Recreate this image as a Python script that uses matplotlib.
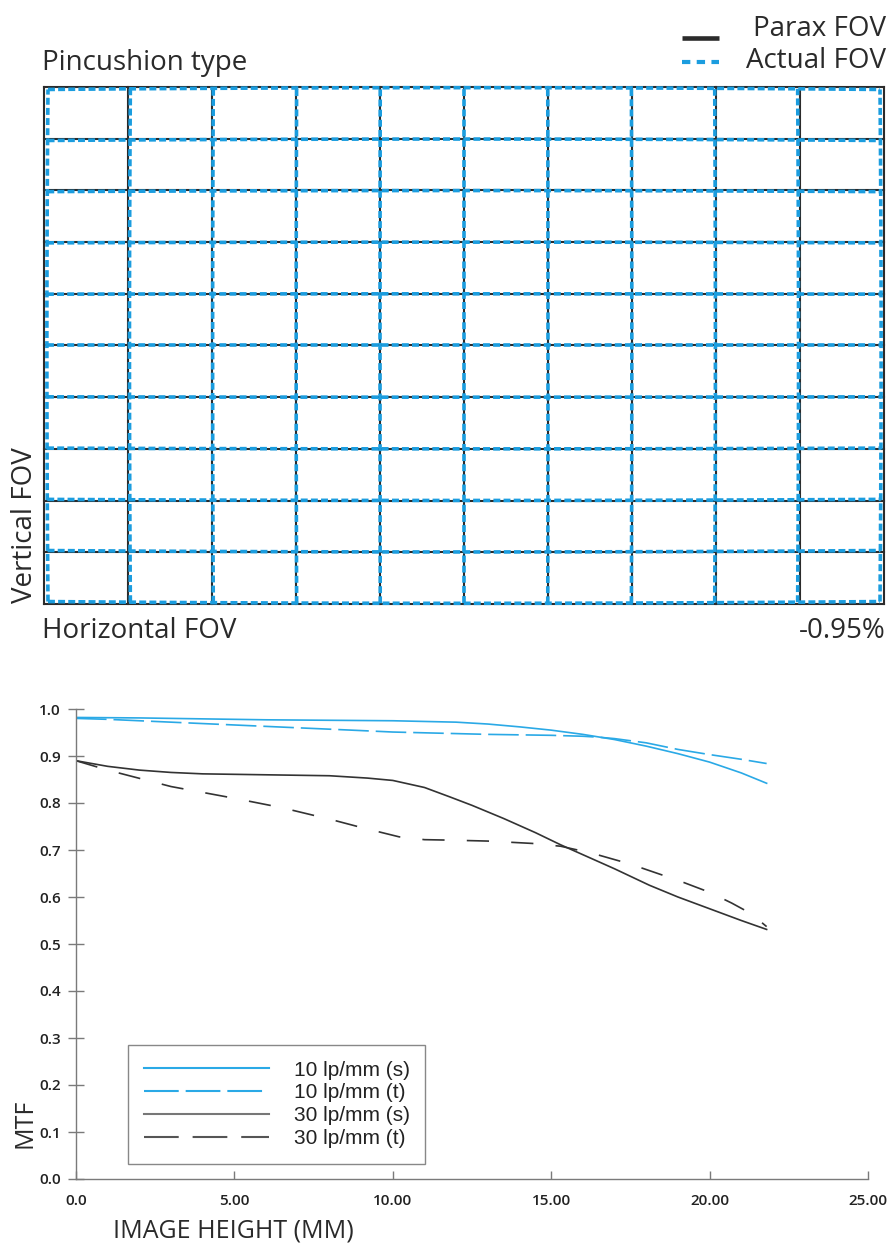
import matplotlib
matplotlib.use("Agg")
import matplotlib.pyplot as plt
import numpy as np

plt.rcParams['lines.scale_dashes'] = False
plt.rcParams['font.family'] = ['Open Sans', 'DejaVu Sans']

# distortion grid
n_cols = 10
n_rows = 10
distortion = -0.95  # percent at the corner

# MTF curves, image height (mm) vs MTF
h_10s = [0, 2, 4, 6, 8, 10, 12, 13, 14, 15, 16, 17, 18, 19, 20, 21, 21.8]
mtf_10s = [0.982, 0.981, 0.979, 0.977, 0.976, 0.975, 0.972, 0.968, 0.962, 0.955,
           0.946, 0.935, 0.921, 0.905, 0.887, 0.864, 0.842]
h_10t = [0, 1, 3, 5, 7, 8.7, 10, 11.8, 13, 14, 15, 16, 16.5, 17, 18, 19, 20, 21, 21.8]
mtf_10t = [0.980, 0.978, 0.972, 0.966, 0.960, 0.955, 0.951, 0.948, 0.946, 0.945,
           0.944, 0.942, 0.940, 0.937, 0.928, 0.914, 0.903, 0.893, 0.884]
h_30s = [0, 1, 2, 3, 4, 6, 8, 9.2, 10, 11, 11.8, 12.5, 13.5, 14.5, 15.3, 16, 17,
         18.1, 19, 20, 21, 21.8]
mtf_30s = [0.890, 0.878, 0.870, 0.865, 0.862, 0.860, 0.858, 0.853, 0.848, 0.833,
           0.813, 0.795, 0.767, 0.737, 0.711, 0.690, 0.660, 0.625, 0.600, 0.575,
           0.550, 0.531]
h_30t = [0, 1, 1.8, 3, 5, 6.5, 8.1, 9, 10.2, 11, 11.8, 13, 14.4, 15.3, 16.3, 17.5,
         19.1, 20, 20.7, 21.3, 21.8]
mtf_30t = [0.890, 0.870, 0.856, 0.835, 0.810, 0.790, 0.764, 0.748, 0.728, 0.722,
           0.721, 0.719, 0.714, 0.708, 0.693, 0.670, 0.633, 0.610, 0.587, 0.565,
           0.537]
labels = ['10 lp/mm (s)', '10 lp/mm (t)', '30 lp/mm (s)', '30 lp/mm (t)']
x_ticks = [0, 5, 10, 15, 20, 25]
x_ticklabels = ['0.0', '5.00', '10.00', '15.00', '20.00', '25.00']
y_ticks = [0.0, 0.1, 0.2, 0.3, 0.4, 0.5, 0.6, 0.7, 0.8, 0.9, 1.0]

W, H = 893, 1245
fig = plt.figure(figsize=(W / 100, H / 100), dpi=100)

black = '#2b2b2b'
grid_blue = '#1b9ddf'
mtf_blue = '#2aa9e6'

# ---- top: grid distortion ----
ax1 = fig.add_axes([44 / W, 1 - 604 / H, 840 / W, 517 / H])
ax1.set_xlim(0, n_cols)
ax1.set_ylim(0, n_rows)
ax1.axis('off')

cw, rh = 840 / n_cols, 517 / n_rows
rc2 = (n_cols / 2 * cw) ** 2 + (n_rows / 2 * rh) ** 2


def distort(x, y):
    px = (x - n_cols / 2) * cw
    py = (y - n_rows / 2) * rh
    s = 1 + distortion / 100 * (px ** 2 + py ** 2) / rc2
    return n_cols / 2 + (x - n_cols / 2) * s, n_rows / 2 + (y - n_rows / 2) * s


t = np.linspace(0, 1, 60)
for i in range(n_cols + 1):
    ax1.plot([i, i], [0, n_rows], color=black, lw=1.5, clip_on=False, zorder=1)
    xd, yd = distort(np.full_like(t, i), t * n_rows)
    ax1.plot(xd, yd, color=grid_blue, lw=2.6, dashes=(5, 2.3), clip_on=False, zorder=2)
for j in range(n_rows + 1):
    ax1.plot([0, n_cols], [j, j], color=black, lw=1.5, clip_on=False, zorder=1)
    xd, yd = distort(t * n_cols, np.full_like(t, j))
    ax1.plot(xd, yd, color=grid_blue, lw=2.6, dashes=(5, 2.3), clip_on=False, zorder=2)

txt = dict(color='#2a2a2a', fontsize=20)
fig.text(42 / W, 1 - 70 / H, 'Pincushion type', ha='left', va='baseline', **txt)
fig.text(886 / W, 1 - 36 / H, 'Parax FOV', ha='right', va='baseline', **txt)
fig.text(886 / W, 1 - 68 / H, 'Actual FOV', ha='right', va='baseline', **txt)
fig.text(42 / W, 1 - 638 / H, 'Horizontal FOV', ha='left', va='baseline', **txt)
fig.text(886 / W, 1 - 638 / H, '-0.95%', ha='right', va='baseline', **txt)
fig.text(32 / W, 1 - 603 / H, 'Vertical FOV', ha='left', va='baseline',
         rotation=90, rotation_mode='anchor', **txt)
fig.add_artist(plt.Line2D([682 / W, 719 / W], [1 - 38 / H, 1 - 38 / H],
                          color=black, lw=3.3, solid_capstyle='butt'))
fig.add_artist(plt.Line2D([682 / W, 719 / W], [1 - 62 / H, 1 - 62 / H],
                          color=grid_blue, lw=3.0, dashes=(6, 4.6)))

# ---- bottom: MTF ----
ax2 = fig.add_axes([76 / W, 1 - 1179 / H, 792 / W, 470 / H])
ax2.plot(h_10s, mtf_10s, color=mtf_blue, lw=1.2, label=labels[0])
ax2.plot(h_10t, mtf_10t, color=mtf_blue, lw=1.2, dashes=(22, 5), label=labels[1])
ax2.plot(h_30s, mtf_30s, color='#333333', lw=1.2, label=labels[2])
ax2.plot(h_30t, mtf_30t, color='#333333', lw=1.2, dashes=(16, 16), label=labels[3])
ax2.set_xlim(0, 25)
ax2.set_ylim(0, 1.0)
for s in ['top', 'right']:
    ax2.spines[s].set_visible(False)
for s in ['left', 'bottom']:
    ax2.spines[s].set_color('#7a7a7a')
    ax2.spines[s].set_linewidth(1.0)
ax2.set_xticks(x_ticks)
ax2.set_xticklabels(x_ticklabels)
ax2.set_yticks(y_ticks)
ax2.set_yticklabels(['%.1f' % v for v in y_ticks])
ax2.tick_params(axis='x', direction='in', length=6, width=1, color='#7a7a7a',
                pad=11, labelsize=11, labelcolor='#222222')
ax2.tick_params(axis='y', direction='inout', length=12, width=1, color='#7a7a7a',
                pad=5, labelsize=11, labelcolor='#222222')
for lab in ax2.get_xticklabels() + ax2.get_yticklabels():
    lab.set_fontweight('semibold')

fig.text(113 / W, 1 - 1238 / H, 'IMAGE HEIGHT (MM)', ha='left', va='baseline',
         color='#2a2a2a', fontsize=18)
fig.text(31 / W, 1 - 1148 / H, 'MTF', ha='left', va='baseline', rotation=90,
         rotation_mode='anchor', color='#2a2a2a', fontsize=18)

handles = [
    plt.Line2D([], [], color=mtf_blue, lw=1.5),
    plt.Line2D([], [], color=mtf_blue, lw=1.5, dashes=(25, 5)),
    plt.Line2D([], [], color='#777777', lw=1.5),
    plt.Line2D([], [], color='#555555', lw=1.5, dashes=(25, 10)),
]
leg = fig.legend(handles, labels, loc='upper left',
                 bbox_to_anchor=(128 / W, 1 - 1045 / H),
                 prop={'family': 'Liberation Sans', 'size': 15},
                 handlelength=6.0, handletextpad=1.2, labelspacing=0.18,
                 borderpad=0.75, borderaxespad=0, fancybox=False,
                 frameon=True, framealpha=1)
leg.get_frame().set_edgecolor('#888888')
leg.get_frame().set_linewidth(1.0)
for t_ in leg.get_texts():
    t_.set_color('#222222')

fig.savefig('out.png', dpi=100)
